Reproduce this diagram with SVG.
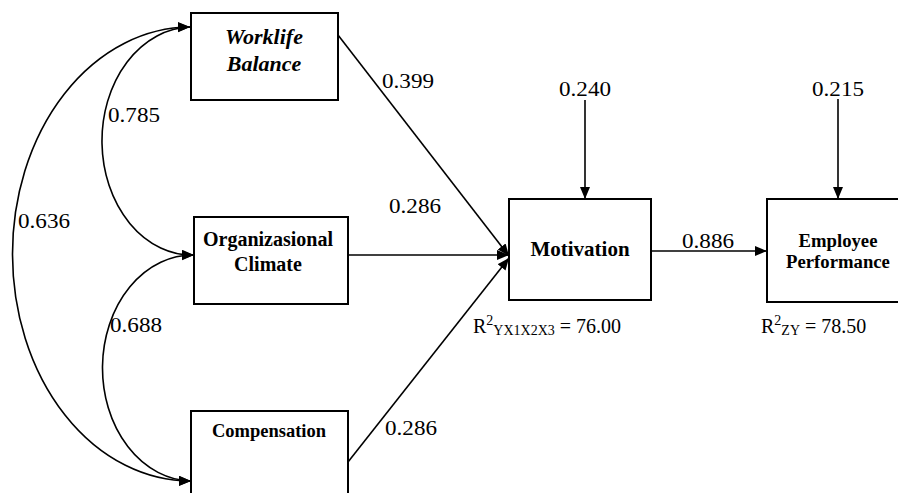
<svg xmlns="http://www.w3.org/2000/svg" width="898" height="493" viewBox="0 0 898 493">
<style>
.box{fill:#fff;stroke:#000;stroke-width:2}
.ln{fill:none;stroke:#000;stroke-width:1.6}
text{font-family:"Liberation Serif","Times New Roman",serif;fill:#000}
.lbl{font-size:20px}
.bt{font-weight:bold;text-anchor:middle}
</style>
<defs>
<marker id="ah" markerUnits="userSpaceOnUse" markerWidth="13" markerHeight="11" refX="12" refY="5" orient="auto-start-reverse">
<path d="M0,0 L12,5 L0,10 z" fill="#000"/>
</marker>
</defs>
<rect width="898" height="493" fill="#fff"/>
<g id="connectors">
<path class="ln" d="M190,27 A90 114 0 0 0 194,255" marker-start="url(#ah)" marker-end="url(#ah)"/>
<path class="ln" d="M190,27 A178 227 0 0 0 191,481" marker-start="url(#ah)" marker-end="url(#ah)"/>
<path class="ln" d="M194,255 A90 113 0 0 0 191,481" marker-start="url(#ah)" marker-end="url(#ah)"/>
<line class="ln" x1="338" y1="35" x2="509" y2="256" marker-end="url(#ah)"/>
<line class="ln" x1="348" y1="255" x2="509" y2="255" marker-end="url(#ah)"/>
<line class="ln" x1="348" y1="462" x2="509" y2="258" marker-end="url(#ah)"/>
<line class="ln" x1="651" y1="251" x2="767" y2="251" marker-end="url(#ah)"/>
<line class="ln" x1="585" y1="100" x2="585" y2="199" marker-end="url(#ah)"/>
<line class="ln" x1="838" y1="99" x2="838" y2="199" marker-end="url(#ah)"/>
</g>
<g id="worklife">
<rect class="box" x="191" y="13" width="147" height="87"/>
<text class="bt" x="264" y="44" font-size="22" font-style="italic">Worklife</text>
<text class="bt" x="264" y="71" font-size="22" font-style="italic">Balance</text>
</g>
<g id="climate">
<rect class="box" x="194" y="217" width="154" height="87"/>
<text class="bt" x="268" y="246" font-size="20">Organizasional</text>
<text class="bt" x="268" y="271" font-size="20">Climate</text>
</g>
<g id="compensation">
<rect class="box" x="191" y="411" width="157" height="100"/>
<text class="bt" x="269" y="437" font-size="18.5">Compensation</text>
</g>
<g id="motivation">
<rect class="box" x="509" y="199" width="142" height="101"/>
<text class="bt" x="580" y="256" font-size="21">Motivation</text>
</g>
<g id="performance">
<rect class="box" x="767" y="199" width="145" height="103"/>
<text class="bt" x="838" y="247" font-size="18.7">Employee</text>
<text class="bt" x="838" y="268" font-size="18.7">Performance</text>
</g>
<g id="labels">
<text class="lbl" x="108" y="122" textLength="52" lengthAdjust="spacingAndGlyphs">0.785</text>
<text class="lbl" x="18" y="228" textLength="52" lengthAdjust="spacingAndGlyphs">0.636</text>
<text class="lbl" x="110" y="332" textLength="52" lengthAdjust="spacingAndGlyphs">0.688</text>
<text class="lbl" x="382" y="88" textLength="52" lengthAdjust="spacingAndGlyphs">0.399</text>
<text class="lbl" x="389" y="213" textLength="52" lengthAdjust="spacingAndGlyphs">0.286</text>
<text class="lbl" x="385" y="435" textLength="52" lengthAdjust="spacingAndGlyphs">0.286</text>
<text class="lbl" x="559" y="96" textLength="52" lengthAdjust="spacingAndGlyphs">0.240</text>
<text class="lbl" x="812" y="96" textLength="52" lengthAdjust="spacingAndGlyphs">0.215</text>
<text class="lbl" x="682" y="248" textLength="52" lengthAdjust="spacingAndGlyphs">0.886</text>
<text class="lbl" x="473" y="333">R<tspan font-size="14" dy="-8">2</tspan><tspan font-size="14" dy="10">YX1X2X3</tspan><tspan dy="-2"> = 76.00</tspan></text>
<text class="lbl" x="761" y="333">R<tspan font-size="14" dy="-8">2</tspan><tspan font-size="14" dy="10">ZY</tspan><tspan dy="-2"> = 78.50</tspan></text>
</g>
</svg>
